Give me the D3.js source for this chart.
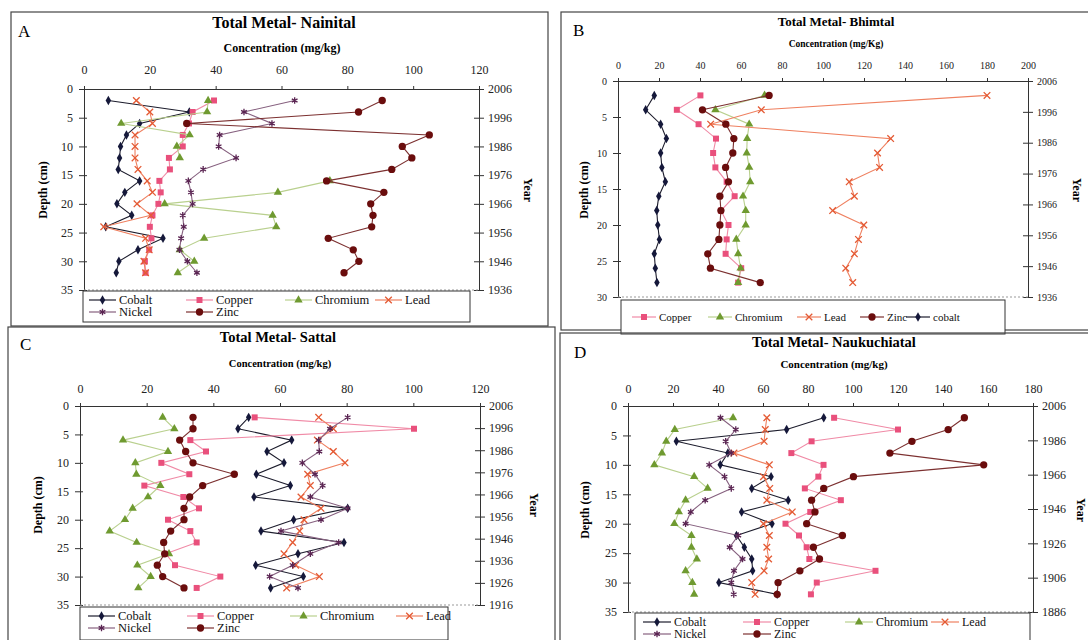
<!DOCTYPE html>
<html>
<head>
<meta charset="utf-8">
<script src="https://cdn.jsdelivr.net/npm/d3@7"></script>
<style>
  body { margin: 0; background: #fff; }
  svg { font-family: "Liberation Serif", "Times New Roman", serif; }
</style>
</head>
<body>
<div id="chart"></div>
<script>
// ---- data : sampling depths (cm) and concentrations (mg/kg) ----
var depths = [2,4,6,8,10,12,14,16,18,20,22,24,26,28,30,32];
var depthsB = [2,4,6,8,10,12,14,16,18,20,22,24,26,28];

// A - Nainital
var nainitalCobalt   = [7.4,32,16.9,12.9,11.1,10.8,10.4,16.9,12.4,10.0,14.5,6.6,24.0,16.4,10.6,9.8];
var nainitalCopper   = [39.5,33.0,31.9,30.0,30.0,25.8,26.1,22.9,23.3,22.6,20.8,20.0,20.5,19.8,18.5,18.7];
var nainitalChromium = [37.7,37.4,11.3,32.1,28.2,29.1,null,74.7,58.9,24.5,57.3,58.4,36.5,29.1,33.5,28.5];
var nainitalLead     = [15.9,20.0,20.8,15.5,15.5,15.5,16.4,19.2,20.8,16.1,20.3,6.0,18.7,19.8,18.2,18.7];
var nainitalNickel   = [64.0,48.6,57.1,41.2,40.9,46.2,36.2,31.7,32.5,33.0,30.0,30.3,29.5,29.0,31.4,34.3];
var nainitalZinc     = [90.6,83.4,31.2,104.9,96.7,99.6,93.5,73.7,91.1,87.1,87.8,87.4,74.2,81.8,83.5,79.0];

// B - Bhimtal
var bhimtalCopper   = [40.2,28.7,39.3,47.8,46.4,47.5,53,56.9,50.2,53.9,53,52.5,60.1,58.6];
var bhimtalChromium = [71.5,47.5,64,63,62.8,64,64.5,61,62.3,62.3,57.7,58.6,59.8,58.6];
var bhimtalLead     = [180,69.9,45.2,133,126.6,127.6,112.8,115.3,104.7,119.9,117.3,115.3,111.1,114.5];
var bhimtalZinc     = [73.7,41.2,52.6,56.5,56,52.5,53.9,49.7,50.2,49.7,49.2,43.8,45.1,69.4];
var bhimtalCobalt   = [17.7,13.5,20.8,23.6,20.8,21.4,23.1,19.9,18.9,19.4,20.2,17.7,18.2,19];

// C - Sattal
var sattalCobalt   = [50.6,47.4,63.5,56.1,61.2,52.9,63.1,52.2,80.3,64.1,54.3,79.2,65.4,52.7,67,57.2];
var sattalCopper   = [52.4,100.2,33.1,37.8,24.4,32.8,19.3,31,35.7,26.4,33.1,35,25.7,28.5,42.1,35];
var sattalChromium = [24.8,28.3,12.9,26.4,16.6,16.9,24.1,20.4,15.8,13.5,8.9,17,26.7,17.2,21.2,17.5];
var sattalLead     = [71.6,76,71.2,76,79.5,68.3,69.1,66.3,72.3,67.2,65.9,63.8,61.2,64.7,71.8,62];
var sattalNickel   = [80.3,75,71.6,71.8,66.7,70.5,72.8,69.1,80.3,72.3,60.3,77.6,69.1,63.8,56.9,65.4];
var sattalZinc     = [33.9,33.9,29.9,31.7,33.9,46.3,36.8,32.9,31.2,31.2,27.2,25.1,25.4,23.2,24.8,31.2];

// D - Naukuchiatal
var naukCobalt   = [87,70.5,21.5,44.4,41,63.6,55,71.2,50.5,64,48.2,51.7,55,55.4,40.4,66.3];
var naukCopper   = [91.6,120,81.6,72.6,86.9,84.6,78.6,94.6,81,70,76,79.4,80.6,110,83.9,81.3];
var naukChromium = [46.7,20.8,17,15.1,11.7,29.4,35.4,25.6,22.6,20.6,28.2,28.2,30.6,25.6,28.6,29.4];
var naukLead     = [61.7,61,60.5,47.1,62.8,60.2,63,61.7,73,60.2,62.8,61.7,62.5,60.5,55,56.5];
var naukNickel   = [41.1,47.9,43.4,45.9,36.1,42.9,45.9,34.3,27.9,25.6,49,45.2,50.9,47.1,45.9,47];
var naukZinc     = [149.5,142.3,126.2,116.4,158.1,100.2,87,81.6,83.1,79.4,95.3,82.4,85.1,76.4,66.7,66.3];

// tick labels
var concTicks120 = [0,20,40,60,80,100,120];
var concTicks200 = [0,20,40,60,80,100,120,140,160,180,200];
var concTicks180 = [0,20,40,60,80,100,120,140,160,180];
var depthTicks35 = [0,5,10,15,20,25,30,35];
var depthTicks30 = [0,5,10,15,20,25,30];
var yearsA = [2006,1996,1986,1976,1966,1956,1946,1936];
var yearsB = [2006,1996,1986,1976,1966,1956,1946,1936];
var yearsC = [2006,1996,1986,1976,1966,1956,1946,1936,1926,1916];
var yearsD = [2006,1986,1966,1946,1926,1906,1886];

// marker / line look for each metal
var look = {
  Cobalt:   {sym: d3.symbolDiamond,  size: 26, fill: "#15183a", line: "#1c1c2c"},
  Copper:   {sym: d3.symbolSquare,   size: 36, fill: "#e9507c", line: "#f08aa6"},
  Chromium: {sym: d3.symbolTriangle, size: 30, fill: "#6f9a30", line: "#b9d08e"},
  Lead:     {sym: d3.symbolTimes,    size: 30, stroke: "#e45a34", line: "#ef8060"},
  Nickel:   {sym: d3.symbolAsterisk, size: 30, stroke: "#5a2452", line: "#86607f"},
  Zinc:     {sym: d3.symbolCircle,   size: 42, fill: "#6a0d0d", line: "#7c3030"}
};

var svg = d3.select("#chart").append("svg")
  .attr("width", 1088)
  .attr("height", 640);

function drawPanel(p, dep, series, xTicks, depthTicks, yearTicks) {
  var g = svg.append("g");

  // frame of the panel
  g.append("rect")
    .attr("x", p.box[0]).attr("y", p.box[1])
    .attr("width", p.box[2] - p.box[0]).attr("height", p.box[3] - p.box[1])
    .attr("fill", "none").attr("stroke", "#444").attr("stroke-width", 1.2);

  g.append("text").attr("x", p.letter[0]).attr("y", p.letter[1])
    .attr("font-size", 17).text(p.name);
  g.append("text").attr("x", p.title[0]).attr("y", p.title[1])
    .attr("text-anchor", "middle").attr("font-weight", "bold")
    .attr("font-size", p.title[2]).text(p.titleText);
  g.append("text").attr("x", p.conc[0]).attr("y", p.conc[1])
    .attr("text-anchor", "middle").attr("font-weight", "bold")
    .attr("font-size", p.conc[2]).text(p.concText);

  var x = d3.scaleLinear().domain([xTicks[0], xTicks[xTicks.length - 1]]).range([p.x0, p.x1]);
  var y = d3.scaleLinear().domain([depthTicks[0], depthTicks[depthTicks.length - 1]]).range([p.y0, p.y1]);
  var yr = d3.scaleLinear().domain([yearTicks[0], yearTicks[yearTicks.length - 1]]).range([p.y0, p.y1]);

  // Add top axis (concentration)
  var gx = g.append("g")
    .attr("transform", "translate(0," + p.y0 + ")")
    .call(d3.axisTop(x).tickValues(xTicks).tickSize(3).tickSizeOuter(0).tickPadding(p.xPad));
  // Add left axis (depth)
  var gy = g.append("g")
    .attr("transform", "translate(" + p.x0 + ",0)")
    .call(d3.axisLeft(y).tickValues(depthTicks).tickSize(4).tickSizeOuter(0).tickPadding(7));
  gy.selectAll(".tick line").attr("x2", -5).attr("x1", 3);
  // Add right axis (year)
  var gr = g.append("g")
    .attr("transform", "translate(" + p.x1 + ",0)")
    .call(d3.axisRight(yr).tickValues(yearTicks).tickFormat(d3.format("d")).tickSize(5).tickSizeOuter(0).tickPadding(4));
  gr.selectAll(".tick line").attr("x1", -5);

  [gx, gy, gr].forEach(function (a) {
    a.attr("font-family", null).attr("font-size", p.tickFont);
    a.selectAll("text").attr("fill", "#222");
    a.selectAll("line, path").attr("stroke", "#333");
  });

  // faint bottom border of the plot
  g.append("line")
    .attr("x1", p.x0).attr("x2", p.x1).attr("y1", p.y1).attr("y2", p.y1)
    .attr("stroke", "#999").attr("stroke-dasharray", "2,2");

  // axis titles
  g.append("text")
    .attr("transform", "translate(" + p.depthLab[0] + "," + p.depthLab[1] + ") rotate(-90)")
    .attr("text-anchor", "middle").attr("font-weight", "bold").attr("font-size", 12)
    .text("Depth (cm)");
  g.append("text")
    .attr("transform", "translate(" + p.yearLab[0] + "," + p.yearLab[1] + ") rotate(90)")
    .attr("text-anchor", "middle").attr("font-weight", "bold").attr("font-size", 12)
    .text("Year");

  // series lines then markers
  var line = d3.line()
    .defined(function (d) { return d.v != null; })
    .x(function (d) { return x(d.v); })
    .y(function (d) { return y(d.d); });

  series.forEach(function (s) {
    var pts = s.values.map(function (v, i) { return {d: dep[i], v: v}; });
    var st = look[s.metal];
    g.append("path").datum(pts)
      .attr("d", line).attr("fill", "none")
      .attr("stroke", st.line).attr("stroke-width", 1.1);
    g.append("g").selectAll("path")
      .data(pts.filter(function (d) { return d.v != null; }))
      .enter().append("path")
      .attr("transform", function (d) { return "translate(" + x(d.v) + "," + y(d.d) + ")"; })
      .attr("d", d3.symbol().type(st.sym).size(st.size))
      .attr("fill", st.fill || "none")
      .attr("stroke", st.stroke || "none")
      .attr("stroke-width", st.stroke ? 1.3 : 0);
  });

  // legend
  var L = p.legend;
  g.append("rect")
    .attr("x", L.box[0]).attr("y", L.box[1])
    .attr("width", L.box[2] - L.box[0]).attr("height", L.box[3] - L.box[1])
    .attr("fill", "#fff").attr("stroke", "#333").attr("stroke-width", 1);
  L.items.forEach(function (it) {
    var st = look[it.metal];
    var li = g.append("g").attr("transform", "translate(" + it.x + "," + it.y + ")");
    li.append("line").attr("x1", 0).attr("x2", L.len).attr("y1", 0).attr("y2", 0)
      .attr("stroke", st.line).attr("stroke-width", 1.2);
    li.append("path")
      .attr("transform", "translate(" + (L.len / 2) + ",0)")
      .attr("d", d3.symbol().type(st.sym).size(st.size))
      .attr("fill", st.fill || "none")
      .attr("stroke", st.stroke || "none")
      .attr("stroke-width", st.stroke ? 1.3 : 0);
    li.append("text").attr("x", L.len + 3).attr("y", 0).attr("dy", "0.32em")
      .attr("font-size", L.font).attr("fill", "#111").text(it.label || it.metal);
  });
}

// Panel A
drawPanel({
  name: "A", letter: [18, 37], titleText: "Total Metal- Nainital", title: [284, 28, 16],
  concText: "Concentration (mg/kg)", conc: [282, 52, 12],
  box: [11, 12, 548, 326], x0: 84, x1: 479, y0: 89, y1: 290, xPad: 12, tickFont: 12,
  depthLab: [47, 190], yearLab: [524, 190],
  legend: {box: [83, 291, 470, 322], len: 27, font: 12.5, items: [
    {metal: "Cobalt", x: 89, y: 300}, {metal: "Copper", x: 186, y: 300},
    {metal: "Chromium", x: 285, y: 300}, {metal: "Lead", x: 375, y: 300},
    {metal: "Nickel", x: 89, y: 312}, {metal: "Zinc", x: 186, y: 312}]}
}, depths, [
  {metal: "Cobalt", values: nainitalCobalt}, {metal: "Copper", values: nainitalCopper},
  {metal: "Chromium", values: nainitalChromium}, {metal: "Lead", values: nainitalLead},
  {metal: "Nickel", values: nainitalNickel}, {metal: "Zinc", values: nainitalZinc}
], concTicks120, depthTicks35, yearsA);

// Panel B
drawPanel({
  name: "B", letter: [573, 36], titleText: "Total Metal- Bhimtal", title: [836, 26, 13],
  concText: "Concentration (mg/Kg)", conc: [836, 47, 9.5],
  box: [561, 12, 1100, 330], x0: 618, x1: 1028, y0: 81, y1: 297, xPad: 9, tickFont: 10,
  depthLab: [588, 190], yearLab: [1073, 190],
  legend: {box: [621, 300, 1005, 334], len: 24, font: 11, items: [
    {metal: "Copper", x: 632, y: 317}, {metal: "Chromium", x: 708, y: 317},
    {metal: "Lead", x: 797, y: 317}, {metal: "Zinc", x: 860, y: 317},
    {metal: "Cobalt", label: "cobalt", x: 906, y: 317}]}
}, depthsB, [
  {metal: "Copper", values: bhimtalCopper}, {metal: "Chromium", values: bhimtalChromium},
  {metal: "Lead", values: bhimtalLead}, {metal: "Zinc", values: bhimtalZinc},
  {metal: "Cobalt", values: bhimtalCobalt}
], concTicks200, depthTicks30, yearsB);

// Panel C
drawPanel({
  name: "C", letter: [20, 350], titleText: "Total Metal- Sattal", title: [278, 342, 14.5],
  concText: "Concentration (mg/kg)", conc: [280, 367, 10.5],
  box: [8, 327, 555, 650], x0: 80, x1: 480, y0: 406, y1: 605, xPad: 10, tickFont: 12,
  depthLab: [42, 505], yearLab: [530, 505],
  legend: {box: [80, 607, 448, 640], len: 27, font: 12.5, items: [
    {metal: "Cobalt", x: 88, y: 616}, {metal: "Copper", x: 187, y: 616},
    {metal: "Chromium", x: 290, y: 616}, {metal: "Lead", x: 396, y: 616},
    {metal: "Nickel", x: 88, y: 628}, {metal: "Zinc", x: 187, y: 628}]}
}, depths, [
  {metal: "Cobalt", values: sattalCobalt}, {metal: "Copper", values: sattalCopper},
  {metal: "Chromium", values: sattalChromium}, {metal: "Lead", values: sattalLead},
  {metal: "Nickel", values: sattalNickel}, {metal: "Zinc", values: sattalZinc}
], concTicks120, depthTicks35, yearsC);

// Panel D
drawPanel({
  name: "D", letter: [574, 358], titleText: "Total Metal- Naukuchiatal", title: [834, 347, 14.5],
  concText: "Concentration (mg/kg)", conc: [834, 368, 11],
  box: [560, 333, 1100, 650], x0: 628, x1: 1033, y0: 406, y1: 612, xPad: 10, tickFont: 12,
  depthLab: [589, 510], yearLab: [1077, 510],
  legend: {box: [635, 613, 1030, 645], len: 28, font: 12, items: [
    {metal: "Cobalt", x: 643, y: 622}, {metal: "Copper", x: 743, y: 622},
    {metal: "Chromium", x: 845, y: 622}, {metal: "Lead", x: 931, y: 622},
    {metal: "Nickel", x: 643, y: 634}, {metal: "Zinc", x: 743, y: 634}]}
}, depths, [
  {metal: "Cobalt", values: naukCobalt}, {metal: "Copper", values: naukCopper},
  {metal: "Chromium", values: naukChromium}, {metal: "Lead", values: naukLead},
  {metal: "Nickel", values: naukNickel}, {metal: "Zinc", values: naukZinc}
], concTicks180, depthTicks35, yearsD);
</script>
</body>
</html>
